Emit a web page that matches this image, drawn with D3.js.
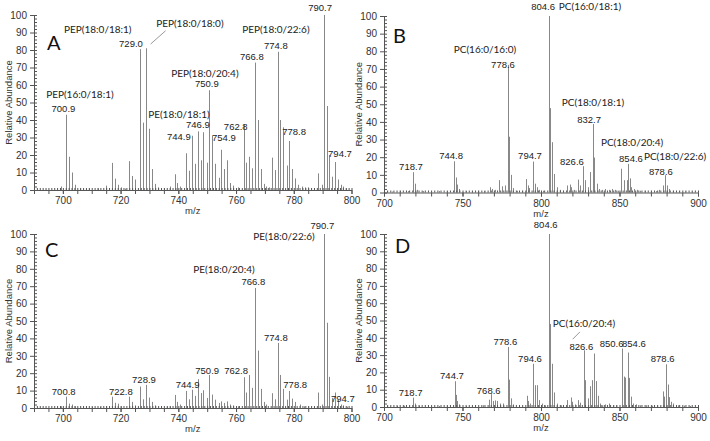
<!DOCTYPE html>
<html>
<head>
<meta charset="utf-8">
<script src="https://cdn.jsdelivr.net/npm/d3@7"></script>
<style>
body { margin: 0; background: #fff; }
</style>
</head>
<body>
<script>
// ---- data (m/z, relative abundance) ----
var peaksA = [[699.3,2],[701.0,43],[702.1,19],[703.1,10],[704.2,3],[706,1],[709,0.8],[712,1],[715.1,2.5],[717.0,15.5],[718.0,6.5],[719.1,3],[720.1,1.5],[721.5,0.8],[723.0,16.5],[724.0,8],[725.1,6],[726.7,80.5],[727.8,38.5],[728.8,81],[729.8,35],[731.0,12],[731.9,3.5],[733,1.5],[735,1],[737,2],[738.7,9],[739.7,4],[740.6,2],[742.6,21],[743.7,11],[744.7,31],[745.8,15],[746.8,33.5],[747.7,17],[748.6,33],[749.8,15.6],[750.7,57],[751.8,31],[752.8,15],[754.0,7],[754.9,23],[755.8,12],[756.7,17],[757.9,4],[758.8,2.5],[760.8,1.5],[762.6,37.7],[763.5,15.6],[764.6,19],[765.6,12.4],[766.7,72.8],[767.6,40],[768.6,12],[769.6,3.5],[770.5,2],[771.5,1.5],[772.3,18.5],[773.6,11.4],[774.5,79],[775.4,40],[776.3,35.8],[777.5,14],[778.4,28],[779.4,12],[780.3,6.6],[781.5,3],[783,2],[784,1.5],[785,1.5],[786,1],[787,1],[788.3,9.5],[789.7,3],[790.5,100],[791.4,48],[792.3,20],[793.3,7.6],[794.3,16],[795.2,6],[796.2,3],[797,2],[798,1]]

var peaksB = [[702,0.8],[705,0.5],[710,1],[715,0.8],[718.7,11.5],[719.7,5],[720.8,1.5],[725,0.8],[730,0.6],[735,0.8],[740,0.7],[744.6,17.7],[745.6,8.5],[746.7,4.5],[748,2],[752,0.8],[756,0.6],[760,1],[764,0.8],[767.5,3],[769,2],[771,1.5],[773.2,7],[775,3.5],[777,4],[778.8,72.3],[779.8,31.6],[780.9,10],[782,2.5],[785,1],[788,1],[790.4,7.6],[791.5,4],[792.4,2.5],[795.1,17.5],[796.2,5],[797.3,3],[799,1.5],[801,1],[804.9,100],[806,47.8],[807,28.5],[808.1,10.5],[810,3],[812,1.5],[814,1],[816.8,4],[818.2,4.5],[819.3,3],[821,1.5],[823.4,7.3],[825,4],[827,14.9],[828,7],[830,3],[831.2,11.6],[832.9,38.8],[834,19.8],[835.5,5],[837,2],[839,1.5],[841,2],[843,1.5],[845,2],[847,1.5],[849,1],[851,13.5],[853,7],[854.5,7],[855.4,16.2],[856.4,8],[857.6,3],[859,2],[861,1.5],[863,1],[866,1],[870,1],[873,0.8],[875,1.5],[877.5,4],[879.2,9.8],[880.2,4],[881.5,2],[884,1],[888,0.8],[892,0.6],[896,0.5]]

var peaksC = [[699.5,1],[701.0,6.5],[702.0,2.5],[703.0,2],[704.2,1],[707,0.6],[710,0.6],[713,0.6],[715,1],[717.0,6.5],[718.0,3],[719.0,2.5],[720.0,1],[723.0,6.5],[724.0,3.5],[725.0,1.5],[726.7,12.3],[727.8,5],[728.8,13.3],[729.8,6],[731.0,3.5],[732.0,1.5],[734,0.8],[736,0.8],[737,1],[738.7,7.5],[739.6,3.5],[740.6,2],[742.6,9.8],[743.7,5],[744.7,10.5],[745.8,7],[746.8,16.6],[747.7,8.6],[748.6,10.2],[749.8,5.8],[750.8,19],[751.8,7.7],[752.8,4.8],[754.0,2.9],[754.9,3.8],[755.8,2.9],[756.7,3.8],[757.9,2],[758.8,1.5],[760.8,1],[762.6,17.7],[763.5,8.9],[764.6,19],[765.6,11.6],[766.7,69],[767.6,33],[768.6,11],[769.6,3.5],[770.5,2],[772.3,8.5],[773.6,5],[774.5,37.4],[775.4,19],[776.3,11],[777.5,4.8],[778.4,9.8],[779.4,5.4],[780.3,3.5],[782,2],[783.5,1],[785,1],[787,0.8],[788.3,8.9],[789.7,2],[790.5,100],[791.4,49],[792.3,17.9],[793.3,5.8],[794.3,8.9],[795.2,4.7],[796.2,2],[797,1.5],[798.5,0.8]]

var peaksD = [[702,0.6],[708,0.6],[713,0.8],[718.7,5.4],[719.7,2],[722,0.8],[728,0.6],[735,0.6],[740,0.8],[745.2,14.9],[745.8,7],[746.7,3.5],[748,1.5],[752,0.6],[758,0.8],[763,1],[767.1,4.2],[768.2,7.4],[769.3,3.5],[770.6,3.8],[772,3.5],[773.8,2],[775.5,2],[778.8,34.7],[779.8,15.8],[780.9,5],[782,1.5],[786,1],[790.9,6.5],[791.7,3.5],[793,2],[795.1,25],[796.4,12.6],[797.5,12.6],[798.5,4],[800.5,2],[802.5,1],[804.9,100],[806,48],[807,25],[808.1,8.4],[810,2],[813,1],[816.8,4],[818.8,5.5],[819.8,3],[821.5,1.5],[823.4,4],[825,2.5],[827.2,32.8],[828.2,15.5],[830,5],[831.2,12],[832.5,15.5],[833.6,30.9],[834.8,15],[836,6.5],[837.4,2],[839,1],[841,1.5],[843.5,2],[846,1],[848,1],[851.6,33.8],[852.7,17.6],[853.8,17],[855.2,31.5],[856.2,16.8],[857.2,6],[858.7,2],[860.8,1.5],[863,1],[867,1],[871,0.8],[874,1],[877.7,9],[878.5,6],[879.6,24.7],[880.6,13],[881.7,5.7],[883,3],[884,2],[887,1],[891,0.8],[895,0.6]]

// annotations: [text, m/z, abundance] where the text sits
var labelsA = [["PEP(16:0/18:1)",705.9,52.6],["700.9",700.2,44.6],["PEP(18:0/18:1)",712.1,89.7],["729.0",723.6,81.7],["PEP(18:0/18:0)",744.0,93.1],["PE(18:0/18:1)",740.2,41.1],["746.9",746.8,35.4],["744.9",740.2,28.6],["PEP(18:0/20:4)",749.2,64.6],["750.9",749.9,58.9],["754.9",755.8,28],["762.8",759.9,34.3],["766.8",765.5,74.3],["PEP(18:0/22:6)",773.8,89.7],["774.8",773.8,80.6],["778.8",780.1,31.4],["790.7",789.1,102.3],["794.7",796.0,18.9]]
var labelsB = [["PC(16:0/16:0)",764.3,79.1],["778.6",775.8,70.6],["744.8",742.7,19.2],["718.7",717.2,13],["794.7",793.0,19.2],["804.6",801.3,103.4],["PC(16:0/18:1)",831.2,103.4],["PC(18:0/18:1)",833.1,49.2],["832.7",830.6,39.5],["826.6",819.7,15.3],["PC(18:0/20:4)",858.0,26.5],["854.6",857.3,17.5],["PC(18:0/22:6)",885.4,18.5],["878.6",876.4,9.8]]
var labelsC = [["700.8",700.3,7.5],["722.8",720.1,7.5],["728.9",728.1,14.3],["744.9",743.2,11.4],["750.9",750.0,19.7],["762.8",760.0,19.7],["PE(18:0/20:4)",755.8,77.8],["766.8",766.0,70.5],["774.8",773.8,38.3],["778.8",780.5,11.4],["PE(18:0/22:6)",776.6,96.7],["790.7",789.9,103],["794.7",797.0,3.2]]
var labelsD = [["718.7",717.0,6.4],["744.7",743.3,15.9],["768.6",766.7,7.7],["778.6",777.3,35.7],["794.6",793.0,26],["804.6",803.0,103.3],["PC(16:0/20:4)",827.4,46.3],["826.6",825.7,33.2],["850.6",845.0,34.7],["854.6",859.2,34.7],["878.6",877.5,26]]

// leader lines: [mz1, ab1, mz2, ab2]
var leadersA = [[730.4,83.4,735.6,91]]
var leadersD = [[824.8,43.4,820.2,39.2]]

var ticksNarrow = [700, 720, 740, 760, 780, 800]
var ticksWide = [700, 750, 800, 850, 900]
var yTicks = [0, 10, 20, 30, 40, 50, 60, 70, 80, 90, 100]

var svg = d3.select("body").append("svg")
    .attr("width", 710)
    .attr("height", 441)
    .style("font-family", "'Liberation Sans', Arial, sans-serif")

function drawPanel(p) {
    var x = d3.scaleLinear().domain(p.xDomain).range(p.xRange)
    var y = d3.scaleLinear().domain([0, 100]).range(p.yRange)
    var g = svg.append("g")
    var y0 = y(0)

    // peaks
    g.selectAll("line.peak").data(p.peaks).enter().append("line")
        .attr("class", "peak")
        .attr("x1", d => Math.round(x(d[0])) + 0.5)
        .attr("x2", d => Math.round(x(d[0])) + 0.5)
        .attr("y1", y0)
        .attr("y2", d => y(d[1]))
        .style("stroke", "#888")
        .style("stroke-width", 1)

    // y axis with minor ticks
    g.append("g")
        .attr("transform", "translate(" + p.xRange[0] + ",0)")
        .call(d3.axisLeft(y).tickValues(yTicks).tickSize(4).tickSizeOuter(0).tickPadding(3))
    g.append("g")
        .attr("transform", "translate(" + p.xRange[0] + ",0)")
        .call(d3.axisRight(y).tickValues(d3.range(0, 101, 2)).tickSize(3).tickFormat(""))
        .call(a => a.select(".domain").remove())

    // x axis, major + minor ticks
    g.append("g")
        .attr("transform", "translate(0," + y0 + ")")
        .call(d3.axisBottom(x).tickValues(p.xTicks).tickSize(4).tickSizeOuter(0).tickPadding(3))
    g.append("g")
        .attr("transform", "translate(0," + y0 + ")")
        .call(d3.axisBottom(x).tickValues(d3.range(p.xDomain[0], p.xDomain[1] + 0.1, p.minorStep)).tickSize(4).tickFormat(""))
        .call(a => a.select(".domain").remove())
    g.append("g")
        .attr("transform", "translate(0," + y0 + ")")
        .call(d3.axisTop(x).tickValues(d3.range(p.xDomain[0], p.xDomain[1] + 0.1, p.tinyStep)).tickSize(2).tickFormat(""))
        .call(a => a.select(".domain").remove())

    g.selectAll(".tick line, .domain").style("stroke", "#555")
    g.selectAll(".tick text").style("font-size", "10px").style("fill", "#333")

    // axis titles
    g.append("text")
        .attr("x", (p.xRange[0] + p.xRange[1]) / 2)
        .attr("y", y0 + 24)
        .attr("text-anchor", "middle")
        .style("font-size", "9.5px")
        .style("fill", "#333")
        .text("m/z")

    g.append("text")
        .attr("transform", "translate(" + (p.xRange[0] - 22) + "," + ((p.yRange[0] + p.yRange[1]) / 2) + ") rotate(-90)")
        .attr("text-anchor", "middle")
        .style("font-size", "9.5px")
        .style("fill", "#333")
        .text("Relative  Abundance")

    // panel letter
    g.append("text")
        .attr("x", x(p.letterPos[0]))
        .attr("y", y(p.letterPos[1]))
        .style("font-family", "Lato, 'Open Sans', sans-serif")
        .style("font-size", "20px")
        .style("fill", "#111")
        .text(p.letter)

    // leader lines
    g.selectAll("line.leader").data(p.leaders).enter().append("line")
        .attr("x1", d => x(d[0])).attr("y1", d => y(d[1]))
        .attr("x2", d => x(d[2])).attr("y2", d => y(d[3]))
        .style("stroke", "#999")
        .style("stroke-width", 1)

    // peak annotations
    g.selectAll("text.ann").data(p.labels).enter().append("text")
        .attr("x", d => x(d[1]))
        .attr("y", d => y(d[2]))
        .attr("text-anchor", "middle")
        .style("font-family", d => d[0].indexOf("(") >= 0 ? "Lato, 'Open Sans', sans-serif" : "'Liberation Sans', Arial, sans-serif")
        .style("font-size", d => d[0].indexOf("(") >= 0 ? "10px" : "9.5px")
        .style("fill", "#222")
        .text(d => d[0])
}

drawPanel({ peaks: peaksA, labels: labelsA, leaders: leadersA, letter: "A", letterPos: [694.5, 80],
    xDomain: [690, 800], xRange: [34, 351.5], yRange: [190, 15], xTicks: ticksNarrow, minorStep: 5, tinyStep: 1 })
drawPanel({ peaks: peaksB, labels: labelsB, leaders: [], letter: "B", letterPos: [705.7, 84.7],
    xDomain: [700, 900], xRange: [384, 698], yRange: [192.5, 16], xTicks: ticksWide, minorStep: 10, tinyStep: 2 })
drawPanel({ peaks: peaksC, labels: labelsC, leaders: [], letter: "C", letterPos: [693.8, 86.7],
    xDomain: [690, 800], xRange: [34, 351.5], yRange: [408, 234], xTicks: ticksNarrow, minorStep: 5, tinyStep: 1 })
drawPanel({ peaks: peaksD, labels: labelsD, leaders: leadersD, letter: "D", letterPos: [707, 89],
    xDomain: [700, 900], xRange: [384, 698], yRange: [407, 234], xTicks: ticksWide, minorStep: 10, tinyStep: 2 })
</script>
</body>
</html>
